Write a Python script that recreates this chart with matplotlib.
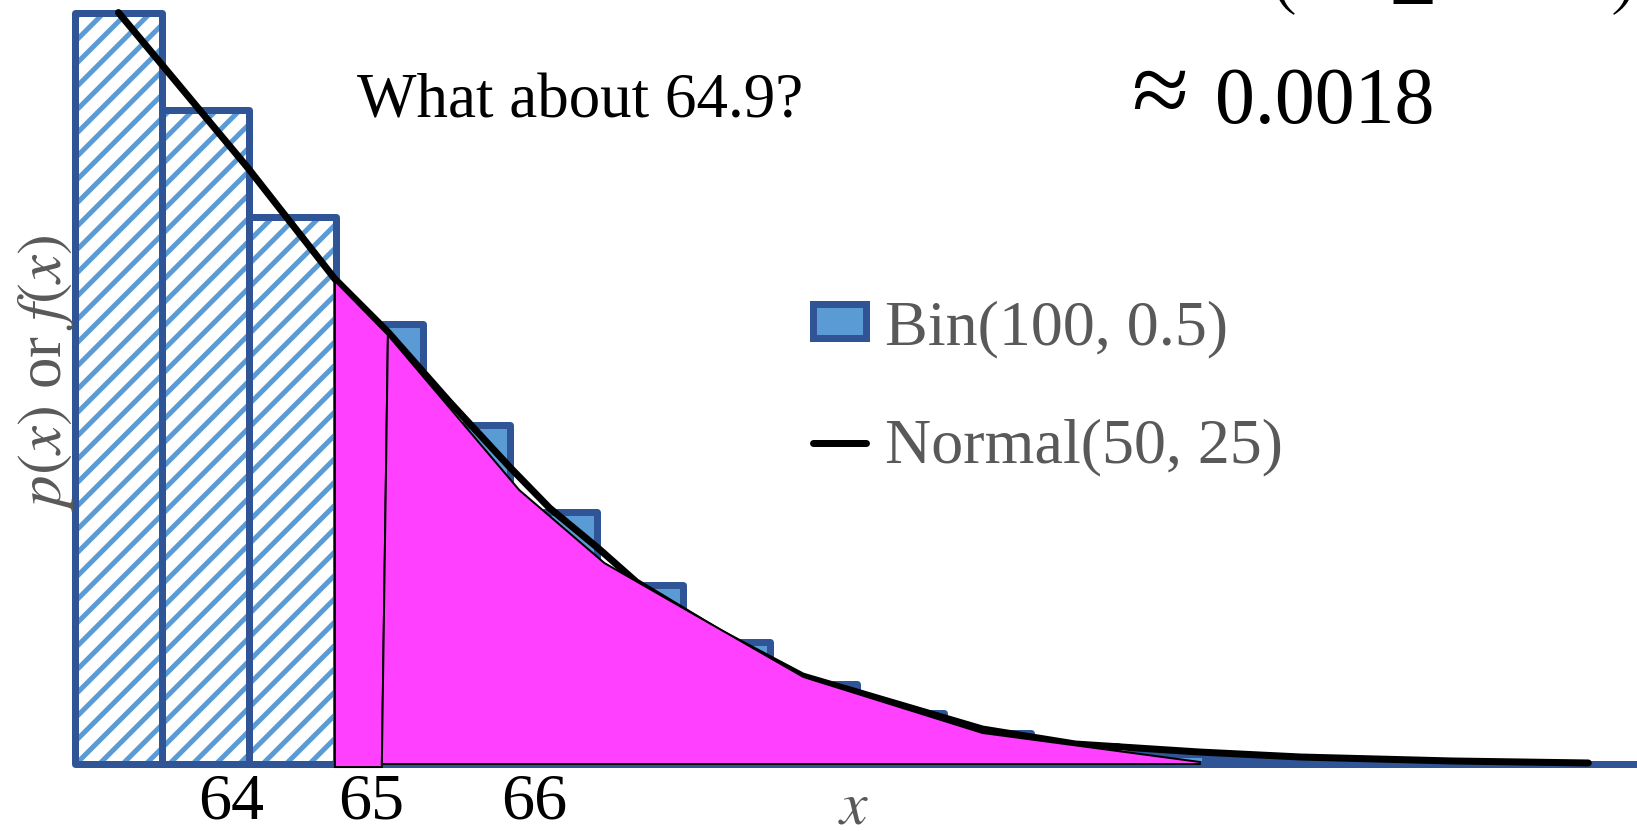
import matplotlib
matplotlib.use('Agg')
import matplotlib.pyplot as plt
from matplotlib.patches import Polygon, Patch
from matplotlib.lines import Line2D

DPI = 140
W, H = 1637, 831


def pt(px):
    return px * 72.0 / DPI


def fx(px):
    return px / W


def fy(py):
    return 1 - py / H


# ---------------- data ----------------
bin_k = [53, 54, 55, 56, 57, 58, 59, 60, 61, 62, 63, 64, 65, 66, 67, 68, 69, 70]
bin_p = [0.06659, 0.05796, 0.04847, 0.03895, 0.03007, 0.02229, 0.01587, 0.01084,
         0.00711, 0.00448, 0.00271, 0.00159, 0.00086, 0.00046, 0.00023, 0.00011,
         0.00005, 0.00002]
n_hatched = 3

# normal curve as drawn
norm_x = [53.00, 54.49, 55.49, 56.10, 56.81, 57.50, 57.96, 58.53, 58.96, 59.91,
          60.87, 62.94, 64.01, 65.44, 66.60, 68.33, 69.91]
norm_y = [0.06659, 0.05281, 0.04298, 0.03828, 0.03208, 0.02632, 0.02268, 0.01905,
          0.01612, 0.01170, 0.00780, 0.00310, 0.00177, 0.00106, 0.00062, 0.00027,
          0.00009]

# shaded area pieces
shadeA_x = [55.49, 55.49, 56.10, 56.03]
shadeA_y = [-0.00027, 0.04280, 0.03801, -0.00027]
shadeB_x = [56.03, 56.10, 57.61, 58.59, 60.88, 62.94, 65.44, 65.44]
shadeB_y = [0.0, 0.03801, 0.02428, 0.01781, 0.00771, 0.00275, 0.00018, 0.0]

tick_pos = [54.30, 55.91, 57.78]
tick_labels = ['64', '65', '66']

legend_labels = ['Bin(100, 0.5)', 'Normal(50, 25)']

DARK = '#2F5597'
LIGHT = '#5B9BD5'
MAGENTA = '#FF40FF'
GRAY = '#595959'

plt.rcParams['mathtext.fontset'] = 'stix'
plt.rcParams['hatch.linewidth'] = pt(5)
SERIF = ['Liberation Serif', 'DejaVu Serif']

fig = plt.figure(figsize=(W / DPI, H / DPI), dpi=DPI)
ax = fig.add_axes([fx(75), fy(764), 1 - fx(75), 764 / H])
ax.set_xlim(52.5, 70.47)
ax.set_ylim(0, 0.0677)

# hatched bars
ax.bar(bin_k[:n_hatched], bin_p[:n_hatched], width=1, color='white',
       edgecolor=LIGHT, hatch='//', linewidth=0, zorder=1, clip_on=False)
b1 = ax.bar(bin_k[:n_hatched], bin_p[:n_hatched], width=1, fill=False,
            edgecolor=DARK, linewidth=pt(7), zorder=2, clip_on=False)
b2 = ax.bar(bin_k[n_hatched:], bin_p[n_hatched:], width=1, color=LIGHT,
            edgecolor=DARK, linewidth=pt(7), zorder=2, clip_on=False)
for b in list(b1) + list(b2):
    b.set_joinstyle('round')

# normal curve
ax.plot(norm_x, norm_y, color='black', lw=pt(7), solid_capstyle='round',
        solid_joinstyle='round', zorder=3, clip_on=False)

# shaded area
ax.add_patch(Polygon(list(zip(shadeA_x, shadeA_y)), closed=True, facecolor=MAGENTA,
                     edgecolor='black', lw=pt(2), zorder=4, clip_on=False))
ax.add_patch(Polygon(list(zip(shadeB_x, shadeB_y)), closed=True, facecolor=MAGENTA,
                     edgecolor='black', lw=pt(2), zorder=4, clip_on=False))

# axes styling
for s in ax.spines.values():
    s.set_visible(False)
ax.set_yticks([])
ax.set_xticks(tick_pos, labels=tick_labels)
ax.tick_params(axis='x', length=0, pad=pt(9), labelsize=pt(66), labelcolor='black')
for t in ax.get_xticklabels():
    t.set_family(SERIF)
ax.patch.set_visible(False)

# legend
handles = [Patch(facecolor=LIGHT, edgecolor=DARK, lw=pt(7), joinstyle='round'),
           Line2D([], [], color='black', lw=pt(7), solid_capstyle='round')]
leg = ax.legend(handles, legend_labels, loc='upper left',
                bbox_to_anchor=(fx(813), fy(300)), bbox_transform=fig.transFigure,
                frameon=False, prop={'family': SERIF, 'size': pt(64)},
                labelcolor=GRAY, handlelength=0.83, handleheight=0.44,
                handletextpad=0.3, labelspacing=0.95, borderpad=0, borderaxespad=0)

# texts
fig.text(fx(357), fy(117), 'What about 64.9?', ha='left', va='baseline',
         fontsize=pt(63), family=SERIF, color='black')
fig.text(fx(1160), fy(99), '\u2248', ha='center', va='center',
         fontsize=pt(104), family=SERIF, color='black')
fig.text(fx(1435), fy(123), '0.0018', ha='right', va='baseline',
         fontsize=pt(80), family=SERIF, color='black')

# formula fragment cut off at top
fig.text(fx(1270), fy(17), r'$($', ha='left', va='bottom', fontsize=pt(78), color='black')
fig.text(fx(1413), fy(3.5), '\u2264', ha='center', va='baseline', fontsize=pt(84),
         family=SERIF, color='black')
fig.text(fx(1634), fy(17), r'$)$', ha='right', va='bottom', fontsize=pt(78), color='black')

# axis labels
fig.text(fx(46), fy(373), r'$p(x)$ or $f(x)$', rotation=90, ha='center', va='center',
         fontsize=pt(63), family=SERIF, color=GRAY)
fig.text(fx(854), fy(806), r'$x$', ha='center', va='center', fontsize=pt(62), color=GRAY)

fig.savefig('out.png', dpi=DPI)
